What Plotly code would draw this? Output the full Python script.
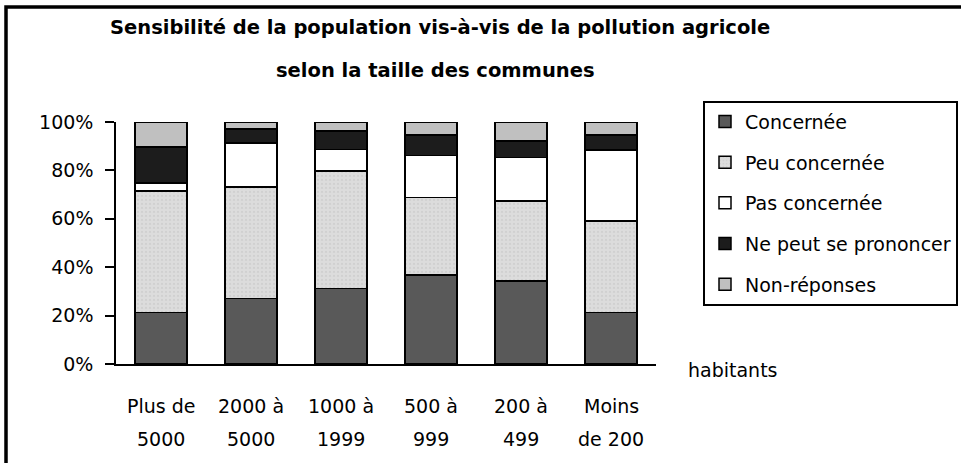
import plotly.graph_objects as go

categories = ["Plus de 5000", "2000 à 5000", "1000 à 1999", "500 à 999", "200 à 499", "Moins de 200"]
cat_line1 = ["Plus de", "2000 à", "1000 à", "500 à", "200 à", "Moins"]
cat_line2 = ["5000", "5000", "1999", "999", "499", "de 200"]

concernee = [21.3, 27.0, 31.1, 36.8, 34.4, 21.3]
peu_concernee = [50.2, 46.2, 48.6, 32.0, 33.0, 37.7]
pas_concernee = [3.3, 18.1, 8.9, 17.4, 17.9, 29.5]
ne_peut = [14.8, 5.9, 7.7, 8.5, 6.8, 6.2]
non_reponses = [10.4, 2.8, 3.7, 5.3, 7.9, 5.3]

series_names = ["Concernée", "Peu concernée", "Pas concernée", "Ne peut se prononcer", "Non-réponses"]
series_values = [concernee, peu_concernee, pas_concernee, ne_peut, non_reponses]
series_colors = ["#595959", "#dadada", "#ffffff", "#1c1c1c", "#c0c0c0"]

FONT = "DejaVu Sans"
FS = 19
W, H = 961, 463
PL, PR, PT, PB = 116, 656, 121.5, 364.5
L, R, T, B = PL, W - PR, PT, H - PB
pw, ph = W - L - R, H - T - B

fig = go.Figure()
for i, (name, vals, col) in enumerate(zip(series_names, series_values, series_colors)):
    marker = dict(color=col, line=dict(color="black", width=1.5))
    if name == "Peu concernée":
        marker["pattern"] = dict(shape=".", bgcolor="#dcdcdc", fgcolor="#c4c4c4", size=4, solidity=0.25)
    fig.add_trace(go.Bar(
        x=categories, y=[v / 100 for v in vals], name=name, marker=marker,
        legendgroup=str(i), width=0.58,
    ))

def px2x(p):
    return (p - L) / pw

def px2y(p):
    return (H - B - p) / ph

shapes = [dict(type="rect", xref="paper", yref="paper",
               x0=px2x(6), x1=px2x(W + 20), y0=px2y(H + 20), y1=px2y(6),
               line=dict(color="black", width=3.5), fillcolor="rgba(0,0,0,0)", layer="above")]

annotations = []
for c, l1, l2 in zip(categories, cat_line1, cat_line2):
    annotations.append(dict(x=c, y=0, xref="x", yref="y", text=l1, showarrow=False,
                            yanchor="middle", yshift=-42, font=dict(family=FONT, size=FS, color="black")))
    annotations.append(dict(x=c, y=0, xref="x", yref="y", text=l2, showarrow=False,
                            yanchor="middle", yshift=-75, font=dict(family=FONT, size=FS, color="black")))
annotations.append(dict(x=px2x(686), y=0, xref="paper", yref="y", text="habitants", showarrow=False,
                        xanchor="left", yanchor="middle", yshift=-6,
                        font=dict(family=FONT, size=FS, color="black")))
annotations.append(dict(x=px2x(440), y=px2y(27), xref="paper", yref="paper", showarrow=False,
                        xanchor="center", yanchor="middle",
                        text="<b>Sensibilité de la population vis-à-vis de la pollution agricole</b>",
                        font=dict(family=FONT, size=FS + 0.5, color="black")))
annotations.append(dict(x=px2x(435), y=px2y(70), xref="paper", yref="paper", showarrow=False,
                        xanchor="center", yanchor="middle",
                        text="<b>selon la taille des communes</b>",
                        font=dict(family=FONT, size=FS + 0.5, color="black")))

fig.update_layout(
    width=W, height=H, barmode="stack",
    margin=dict(l=L, r=R, t=T, b=B, autoexpand=False),
    paper_bgcolor="white", plot_bgcolor="white",
    font=dict(family=FONT, size=FS, color="black"),
    showlegend=True,
    legend=dict(x=px2x(703), y=px2y(100), xanchor="left", yanchor="top",
                traceorder="grouped", tracegroupgap=13,
                bordercolor="black", borderwidth=2, bgcolor="white",
                font=dict(family=FONT, size=FS, color="black")),
    xaxis=dict(showticklabels=False, showline=True, linecolor="black", linewidth=1.5,
               ticks="", showgrid=False, zeroline=False),
    yaxis=dict(range=[0, 1], tickvals=[0, 0.2, 0.4, 0.6, 0.8, 1.0], tickformat=".0%",
               showline=True, linecolor="black", linewidth=1.5, ticks="outside", ticklen=9,
               tickwidth=1.5, tickcolor="black", showgrid=False, zeroline=False,
               ticklabelstandoff=8,
               tickfont=dict(family=FONT, size=FS, color="black")),
    shapes=shapes, annotations=annotations,
)

fig.write_html("out.html", config={"displayModeBar": False},
               post_script="document.body.style.margin='0';")
